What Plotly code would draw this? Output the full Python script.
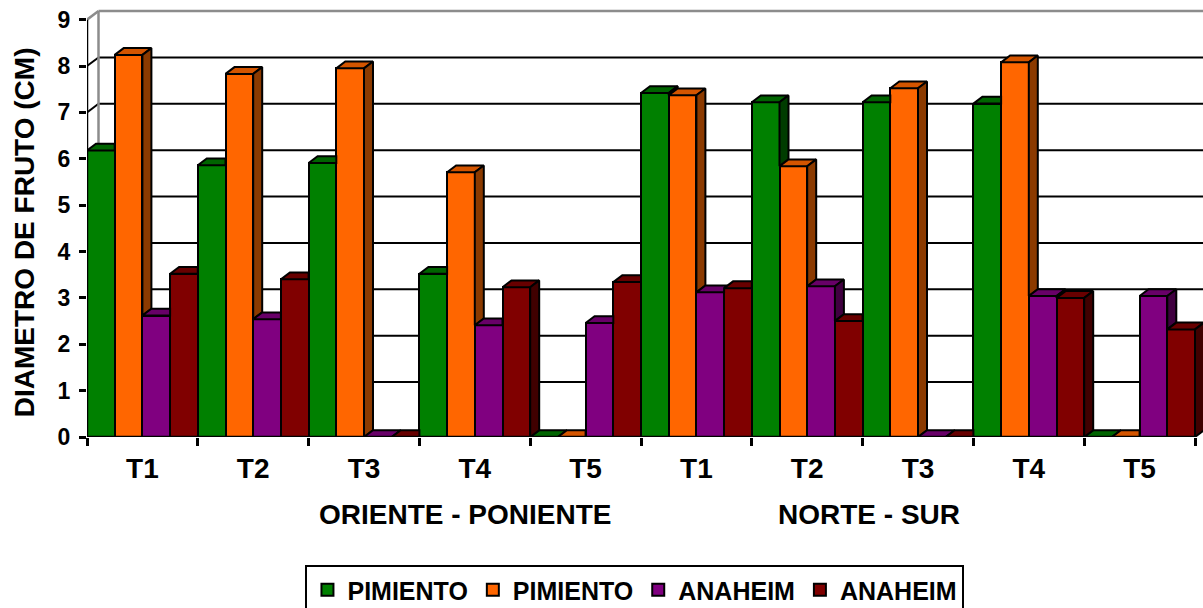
import plotly.graph_objects as go

# ---------------- data ----------------
tratamientos = ["T1", "T2", "T3", "T4", "T5", "T1", "T2", "T3", "T4", "T5"]
grupos = ["ORIENTE - PONIENTE", "NORTE - SUR"]
series_names = ["PIMIENTO", "PIMIENTO", "ANAHEIM", "ANAHEIM"]
pimiento_a = [6.18, 5.86, 5.91, 3.52, 0.0, 7.42, 7.22, 7.22, 7.19, 0.0]
pimiento_b = [8.24, 7.83, 7.95, 5.71, 0.0, 7.37, 5.84, 7.52, 8.08, 0.0]
anaheim_a = [2.62, 2.54, 0.0, 2.41, 2.46, 3.12, 3.25, 0.0, 3.04, 3.04]
anaheim_b = [3.52, 3.40, 0.0, 3.23, 3.34, 3.21, 2.50, 0.0, 3.00, 2.32]
y_ticks = [0, 1, 2, 3, 4, 5, 6, 7, 8, 9]
y_title = "DIAMETRO DE FRUTO (CM)"

# ---------------- style ----------------
FONT = "Liberation Sans, Arial, sans-serif"
front_cols = ["#008000", "#FF6600", "#800080", "#800000"]
top_cols = ["#006400", "#D45500", "#680068", "#680000"]
side_cols = ["#003C00", "#8B3A00", "#400040", "#400000"]

PX_X = 110.8      # pixels per category
PX_Y = 46.37      # pixels per unit
BAR_DX = 9.0 / PX_X
BAR_DY = 6.8 / PX_Y
WALL_DX = 11.5 / PX_X
WALL_DY = 8.6 / PX_Y

all_series = [pimiento_a, pimiento_b, anaheim_a, anaheim_b]
n_cat = len(tratamientos)
n_ser = len(all_series)
bw = 1.0 / n_ser

L, R, T, B = 87, 0, 5, 171
W, H = 1203, 608
PLOT_H = H - T - B
x_lo = -0.5
x_hi = x_lo + (W - L - R) / PX_X
y_hi = PLOT_H / PX_Y

fig = go.Figure()

# front faces (real bars)
for s in range(n_ser):
    fig.add_trace(go.Bar(
        x=list(range(n_cat)), y=all_series[s], name=series_names[s],
        marker=dict(color=front_cols[s], line=dict(color="black", width=2)),
        hoverinfo="skip"))

# ordered list of bars left to right for occlusion computations
seq = []
for c in range(n_cat):
    for s in range(n_ser):
        xl = c - 0.5 + s * bw
        seq.append((s, xl, xl + bw, all_series[s][c]))

tops = {s: ([], []) for s in range(n_ser)}
sides = {s: ([], []) for s in range(n_ser)}
for i, (s, xl, xr, v) in enumerate(seq):
    vn = seq[i + 1][3] if i + 1 < len(seq) else None
    # top face
    if vn is None or vn <= v:
        pts = [(xl, v), (xr, v), (xr + BAR_DX, v + BAR_DY), (xl + BAR_DX, v + BAR_DY)]
    elif vn >= v + BAR_DY:
        pts = [(xl, v), (xr, v), (xr, v + BAR_DY), (xl + BAR_DX, v + BAR_DY)]
    else:
        pts = [(xl, v), (xr, v), (xr, vn),
               (xr + BAR_DX * (v + BAR_DY - vn) / BAR_DY, v + BAR_DY),
               (xl + BAR_DX, v + BAR_DY)]
    px, py = tops[s]
    for (a, b) in pts + [pts[0]]:
        px.append(a); py.append(b)
    px.append(None); py.append(None)
    # side face
    bot = 0.0 if vn is None else vn
    if v > bot:
        pts = [(xr, bot), (xr + BAR_DX, bot + BAR_DY), (xr + BAR_DX, v + BAR_DY), (xr, v)]
        sx, sy = sides[s]
        for (a, b) in pts + [pts[0]]:
            sx.append(a); sy.append(b)
        sx.append(None); sy.append(None)

for s in range(n_ser):
    for xs, ys, col in ((tops[s][0], tops[s][1], top_cols[s]),
                        (sides[s][0], sides[s][1], side_cols[s])):
        if xs:
            fig.add_trace(go.Scatter(
                x=xs, y=ys, mode="lines", fill="toself", fillcolor=col,
                line=dict(color="black", width=2), showlegend=False,
                hoverinfo="skip", cliponaxis=False))

# walls and gridlines (behind bars)
shapes = []
bx = x_lo + WALL_DX
for v in y_ticks[1:-1]:
    shapes.append(dict(type="line", xref="x", yref="y", layer="below",
                       x0=bx, x1=x_hi + 1, y0=v + WALL_DY, y1=v + WALL_DY,
                       line=dict(color="black", width=2)))
    shapes.append(dict(type="line", xref="x", yref="y", layer="below",
                       x0=x_lo, x1=bx, y0=v, y1=v + WALL_DY,
                       line=dict(color="black", width=2)))
top_v = y_ticks[-1]
gray = "#8C8C8C"
shapes.append(dict(type="line", xref="x", yref="y", layer="below",
                   x0=bx, x1=x_hi + 1, y0=top_v + WALL_DY, y1=top_v + WALL_DY,
                   line=dict(color=gray, width=2.5)))
shapes.append(dict(type="line", xref="x", yref="y", layer="below",
                   x0=x_lo, x1=bx, y0=top_v, y1=top_v + WALL_DY,
                   line=dict(color=gray, width=2.5)))
shapes.append(dict(type="line", xref="x", yref="y", layer="below",
                   x0=bx, x1=bx, y0=WALL_DY, y1=top_v + WALL_DY,
                   line=dict(color=gray, width=2.5)))
# axis lines
shapes.append(dict(type="line", xref="x", yref="y", layer="above",
                   x0=x_lo, x1=x_lo, y0=0, y1=top_v,
                   line=dict(color="black", width=2.5)))
shapes.append(dict(type="line", xref="x", yref="y", layer="above",
                   x0=x_lo, x1=n_cat - 0.5, y0=0, y1=0,
                   line=dict(color="black", width=2.5)))

# group labels and axis title
label_font = dict(family=FONT, size=28, color="black", weight="bold")
annotations = [
    dict(text=grupos[0], x=2.91, y=-77 / PLOT_H, xref="x", yref="paper",
         showarrow=False, font=label_font, xanchor="center", yanchor="middle"),
    dict(text=grupos[1], x=6.56, y=-77 / PLOT_H, xref="x", yref="paper",
         showarrow=False, font=label_font, xanchor="center", yanchor="middle"),
    dict(text=y_title, x=0, xref="paper", xshift=-63, xanchor="center",
         y=(437.3 - 232.5) / PLOT_H, yref="paper", yanchor="middle",
         textangle=-90, showarrow=False, font=label_font),
]

fig.update_layout(
    width=W, height=H, autosize=False,
    margin=dict(l=L, r=R, t=T, b=B, pad=0, autoexpand=False),
    paper_bgcolor="white", plot_bgcolor="white",
    barmode="group", bargap=0, bargroupgap=0,
    shapes=shapes, annotations=annotations,
    font=dict(family=FONT, color="black"),
    legend=dict(orientation="h", x=0.491, xanchor="center",
                y=(437 - 565) / PLOT_H, yanchor="top",
                bordercolor="black", borderwidth=2, bgcolor="white",
                font=dict(family=FONT, size=25, color="black", weight="bold"),
                traceorder="normal", itemwidth=30),
    xaxis=dict(range=[x_lo, x_hi], tickmode="array",
               tickvals=list(range(n_cat)), ticktext=tratamientos,
               ticks="outside", ticklen=0, showgrid=False, zeroline=False,
               showline=False,
               tickfont=label_font,
               minor=dict(tickmode="array",
                          tickvals=[c - 0.5 for c in range(n_cat + 1)],
                          ticks="outside", ticklen=8, tickwidth=2.5,
                          tickcolor="black", showgrid=False),
               ticklabelstandoff=6),
    yaxis=dict(range=[0, y_hi], tickmode="array", tickvals=y_ticks,
               ticks="outside", ticklen=7, tickwidth=2.5, tickcolor="black",
               showgrid=False, zeroline=False, showline=False,
               tickfont=dict(family=FONT, size=23, color="black", weight="bold"),
               ticklabelstandoff=4),
)

fig.write_html("out.html")
